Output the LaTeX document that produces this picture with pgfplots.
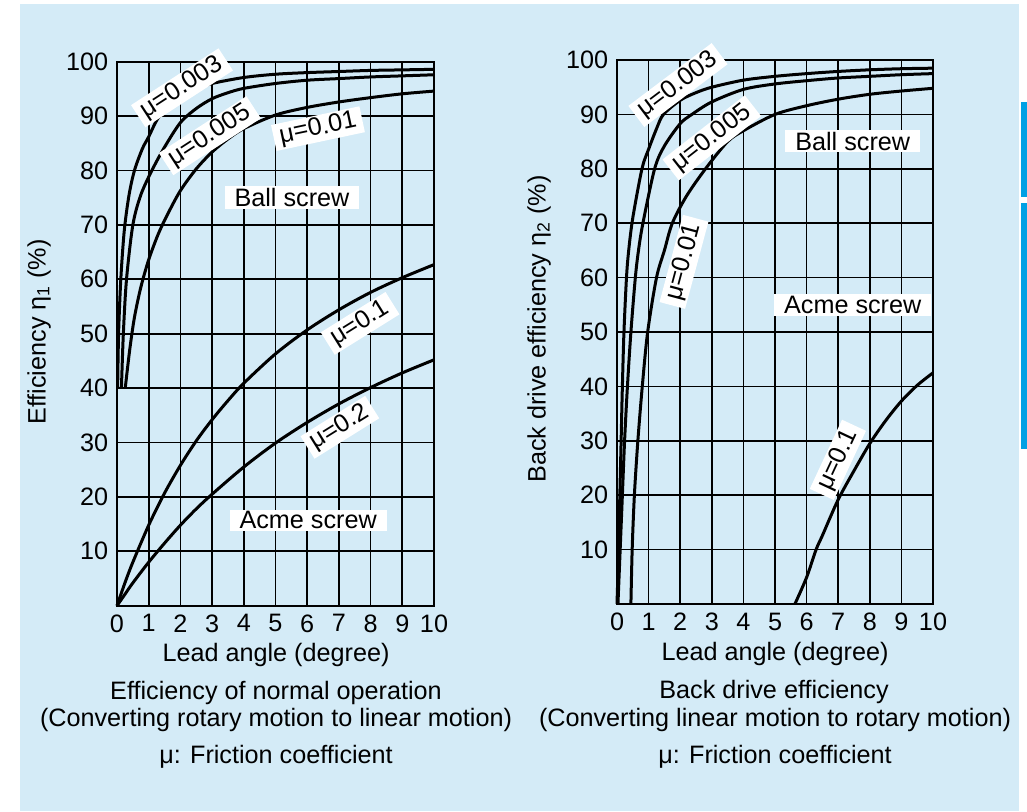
\documentclass[border=0pt]{standalone}
\usepackage{fontspec}
\setmainfont{Liberation Sans}
\usepackage{pgfplots}
\pgfplotsset{compat=1.18}
\definecolor{bgblue}{HTML}{D4EBF7}
\definecolor{barblue}{HTML}{00A0E4}
\pgfplotsset{
  effax/.style={
    anchor=south west,
    scale only axis,
    xmin=0, xmax=10, ymin=0, ymax=100,
    xtick={0,1,...,10}, ytick={10,20,...,100},
    grid=major,
    major grid style={black, line width=0.85pt},
    axis line style={black, line width=0.9pt},
    major tick length=0pt,
    clip=false,
    /pgf/number format/assume math mode=true,
    tick label style={font=\fontsize{12.6pt}{15pt}\selectfont},
    every axis plot post/.append style={black, line width=1.5pt, mark=none, smooth},
  },
}
\tikzset{lab/.style={fill=white, inner xsep=3pt, inner ysep=1pt, font=\fontsize{12.6pt}{15pt}\selectfont}}
\begin{document}
\fontsize{12.6pt}{15pt}\selectfont
\begin{tikzpicture}
\begin{scope}[x=0.5pt,y=-0.5pt]
\useasboundingbox (0,0) rectangle (1027,811);
\fill[white] (0,0) rectangle (1027,811);
\fill[bgblue] (20,4) rectangle (1019,811);
\fill[barblue] (1021,102) rectangle (1027,197);
\fill[barblue] (1021,203) rectangle (1027,449);
\end{scope}

% ---------------- left panel ----------------
\begin{axis}[effax, at={(58.5pt,-302.85pt)}, width=158.5pt, height=272pt]
\addplot coordinates {(0.02,40) (0.05,50) (0.12,60) (0.23,69) (0.38,75.5) (0.55,80) (0.8,84) (1.0,86.2) (1.25,89.2) (1.5,91) (2,93.6) (2.5,95) (3,96) (4,97.1) (5,97.7) (6,98) (7,98.2) (8,98.4) (9,98.5) (10,98.6)};
\addplot coordinates {(0.14,40) (0.2,50) (0.3,60) (0.5,70) (0.75,75.5) (1.1,80) (1.5,84.3) (2,88.8) (2.5,91.4) (3,93.2) (3.5,94.3) (4,95.1) (5,96) (6,96.6) (7,96.9) (8,97.2) (9,97.4) (10,97.6)};
\addplot coordinates {(0.26,40) (0.4,47) (0.55,53) (0.75,58.5) (1,63.6) (1.3,68.3) (1.6,72) (2,76.3) (2.5,80.3) (3,83.4) (3.5,85.8) (4,87.7) (5,90.2) (6,91.6) (7,92.6) (8,93.4) (9,94.1) (10,94.6)};
\addplot coordinates {(0,0) (0.25,4.2) (0.5,8.0) (1,14.8) (1.5,20.7) (2,25.8) (2.5,30.3) (3,34.2) (3.5,37.7) (4,40.9) (5,46.3) (6,50.7) (7,54.4) (8,57.6) (9,60.3) (10,62.7)};
\addplot coordinates {(0,0) (0.25,2.1) (0.5,4.2) (1,8.0) (1.5,11.5) (2,14.8) (2.5,17.8) (3,20.5) (4,25.5) (5,29.9) (6,33.7) (7,37.1) (8,40.1) (9,42.8) (10,45.2)};
\node[lab, rotate=33] at (axis cs:2.05,95.2) {μ=0.003};
\node[lab, rotate=33] at (axis cs:2.93,86.4) {μ=0.005};
\node[lab, rotate=12] at (axis cs:6.34,87.7) {μ=0.01};
\node[lab, inner xsep=5pt] at (axis cs:5.52,75.0) {Ball screw};
\node[lab, rotate=32] at (axis cs:7.67,51.9) {μ=0.1};
\node[lab, rotate=32] at (axis cs:7.03,32.8) {μ=0.2};
\node[lab, inner xsep=5pt] at (axis cs:6.03,15.7) {Acme screw};
\end{axis}

% ---------------- right panel ----------------
\begin{axis}[effax, at={(308.5pt,-302pt)}, width=158pt, height=272pt]
\addplot coordinates {(0,0) (0.05,10) (0.09,20) (0.13,30) (0.17,40) (0.22,50) (0.3,60) (0.37,65) (0.5,71) (0.79,80) (1,83.6) (1.26,87.5) (1.47,90) (2,92.6) (2.5,94) (3,95) (4,96.3) (5,97) (6,97.5) (7,97.9) (8,98.2) (9,98.4) (10,98.5)};
\addplot coordinates {(0.03,0) (0.1,10) (0.17,20) (0.24,30) (0.33,40) (0.44,50) (0.58,60) (0.68,65) (0.82,70) (1.19,80) (1.5,84.2) (2,88.3) (2.37,90) (3,92.3) (4,94.6) (5,95.6) (6,96.2) (7,96.7) (8,97.0) (9,97.3) (10,97.5)};
\addplot coordinates {(0.44,0) (0.48,10) (0.55,20) (0.66,30) (0.8,40) (0.97,50) (1.25,60) (1.5,65) (1.75,70) (2.2,75) (2.8,80) (3.5,85) (4,87) (5,90) (6,91.6) (7,92.8) (8,93.7) (9,94.3) (10,94.8)};
\addplot coordinates {(5.63,0) (6,4.9) (6.3,10) (6.5,12.6) (7,19.2) (7.5,24.5) (8,29.5) (8.5,33.7) (9,37.3) (9.5,40.2) (10,42.5)};
\node[lab, rotate=37] at (axis cs:1.93,95.4) {μ=0.003};
\node[lab, rotate=38] at (axis cs:3.0,85.7) {μ=0.005};
\node[lab, rotate=75] at (axis cs:2.12,62.9) {μ=0.01};
\node[lab, inner xsep=5pt] at (axis cs:7.46,85.1) {Ball screw};
\node[lab, inner xsep=5pt] at (axis cs:7.46,55.0) {Acme screw};
\node[lab, rotate=65] at (axis cs:6.99,26.5) {μ=0.1};
\end{axis}

\begin{scope}[x=0.5pt,y=-0.5pt]
\node[rotate=90] at (39,332) {Efficiency η\textsubscript{1} (\%)};
\node[rotate=90] at (539,329) {Back drive efficiency η\textsubscript{2} (\%)};
\node at (276,655) {Lead angle (degree)};
\node at (775,654) {Lead angle (degree)};
\node at (276,693) {Efficiency of normal operation};
\node at (276,720) {(Converting rotary motion to linear motion)};
\node at (276,757) {μ: Friction coefficient};
\node at (774,692) {Back drive efficiency};
\node at (775,720) {(Converting linear motion to rotary motion)};
\node at (775,757) {μ: Friction coefficient};
\end{scope}
\end{tikzpicture}
\end{document}
